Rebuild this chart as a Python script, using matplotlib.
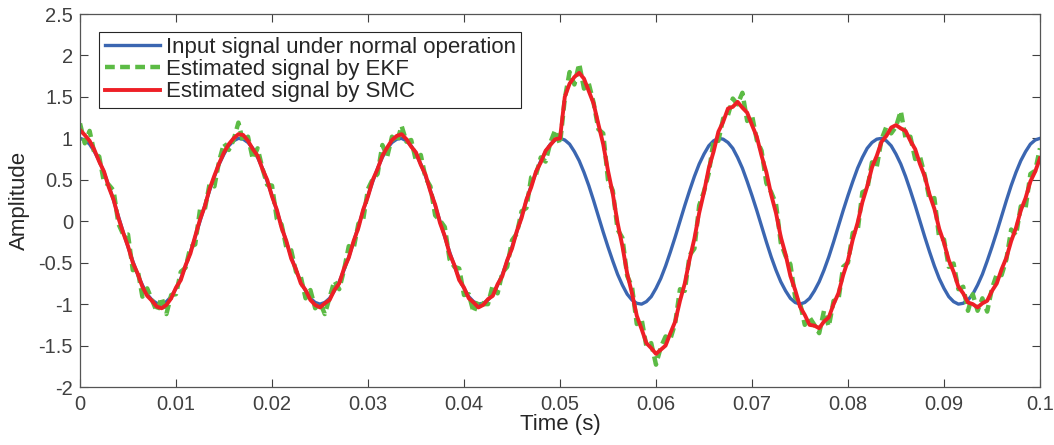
# -*- coding: utf-8 -*-
# Input signal vs. EKF / SMC estimates (fault at t = 0.05 s)

import numpy as np
import matplotlib.pyplot as plt

plt.rcParams['font.family'] = ['Liberation Sans', 'DejaVu Sans']
plt.rcParams['axes.unicode_minus'] = False

dt = 0.0005
n_pts = 201

# input signal under normal operation, read every 0.5 ms
input_sig = [
    1.00, 0.98, 0.93, 0.84, 0.73, 0.59, 0.43, 0.25, 0.06, -0.13, -0.31, -0.48, -0.64, -0.77, -0.88, -0.95, -0.99,
    -1.00, -0.97, -0.91, -0.81, -0.69, -0.54, -0.37, -0.19, 0.00, 0.19, 0.37, 0.54, 0.69, 0.81, 0.91, 0.97, 1.00,
    0.99, 0.95, 0.88, 0.77, 0.64, 0.48, 0.31, 0.13, -0.06, -0.25, -0.43, -0.59, -0.73, -0.84, -0.93, -0.98, -1.00,
    -0.98, -0.93, -0.84, -0.73, -0.59, -0.43, -0.25, -0.06, 0.13, 0.31, 0.48, 0.64, 0.77, 0.88, 0.95, 0.99,
    1.00, 0.97, 0.91, 0.81, 0.69, 0.54, 0.37, 0.19, 0.00, -0.19, -0.37, -0.54, -0.69, -0.81, -0.91, -0.97, -1.00,
    -0.99, -0.95, -0.88, -0.77, -0.64, -0.48, -0.31, -0.13, 0.06, 0.25, 0.43, 0.59, 0.73, 0.84, 0.93, 0.98, 1.00,
    0.98, 0.93, 0.84, 0.73, 0.59, 0.43, 0.25, 0.06, -0.13, -0.31, -0.48, -0.64, -0.77, -0.88, -0.95, -0.99,
    -1.00, -0.97, -0.91, -0.81, -0.69, -0.54, -0.37, -0.19, 0.00, 0.19, 0.37, 0.54, 0.69, 0.81, 0.91, 0.97, 1.00,
    0.99, 0.95, 0.88, 0.77, 0.64, 0.48, 0.31, 0.13, -0.06, -0.25, -0.43, -0.59, -0.73, -0.84, -0.93, -0.98, -1.00,
    -0.98, -0.93, -0.84, -0.73, -0.59, -0.43, -0.25, -0.06, 0.13, 0.31, 0.48, 0.64, 0.77, 0.88, 0.95, 0.99,
    1.00, 0.97, 0.91, 0.81, 0.69, 0.54, 0.37, 0.19, 0.00, -0.19, -0.37, -0.54, -0.69, -0.81, -0.91, -0.97, -1.00,
    -0.99, -0.95, -0.88, -0.77, -0.64, -0.48, -0.31, -0.13, 0.06, 0.25, 0.43, 0.59, 0.73, 0.84, 0.93, 0.98, 1.00,
]

# estimated by SMC
smc_sig = [
    1.10, 1.04, 0.97, 0.86, 0.72, 0.60, 0.41, 0.26, 0.04, -0.14, -0.30, -0.50, -0.63, -0.79, -0.90, -0.96, -1.03,
    -1.05, -1.01, -0.93, -0.80, -0.71, -0.53, -0.39, -0.18, 0.02, 0.18, 0.39, 0.55, 0.70, 0.83, 0.93, 1.00, 1.05,
    1.04, 0.97, 0.87, 0.79, 0.63, 0.50, 0.30, 0.14, -0.08, -0.24, -0.45, -0.58, -0.75, -0.83, -0.95, -1.01, -1.04,
    -0.99, -0.95, -0.83, -0.75, -0.57, -0.44, -0.24, -0.08, 0.14, 0.30, 0.50, 0.63, 0.79, 0.89, 0.98, 1.03,
    1.05, 0.99, 0.90, 0.83, 0.68, 0.56, 0.36, 0.20, -0.02, -0.18, -0.39, -0.53, -0.71, -0.80, -0.93, -0.98, -1.04,
    -1.01, -0.94, -0.90, -0.76, -0.66, -0.47, -0.33, -0.12, 0.04, 0.26, 0.41, 0.60, 0.71, 0.85, 0.92, 0.99, 1.00,
    1.50, 1.66, 1.74, 1.79, 1.72, 1.57, 1.42, 1.17, 0.93, 0.61, 0.33, -0.02, -0.30, -0.63, -0.87, -1.14,
    -1.30, -1.47, -1.53, -1.60, -1.55, -1.50, -1.35, -1.21, -0.96, -0.75, -0.46, -0.21, 0.10, 0.35, 0.64, 0.84, 1.08,
    1.20, 1.36, 1.38, 1.44, 1.37, 1.31, 1.16, 1.02, 0.79, 0.59, 0.32, 0.10, -0.19, -0.40, -0.66, -0.83, -1.03,
    -1.13, -1.25, -1.26, -1.29, -1.21, -1.16, -1.00, -0.87, -0.65, -0.47, -0.22, -0.02, 0.23, 0.42, 0.65, 0.79,
    0.96, 1.03, 1.13, 1.16, 1.12, 1.09, 0.97, 0.87, 0.69, 0.54, 0.32, 0.15, -0.09, -0.26, -0.47, -0.61, -0.79,
    -0.87, -0.98, -1.00, -1.04, -0.99, -0.96, -0.84, -0.75, -0.58, -0.44, -0.24, -0.08, 0.13, 0.28, 0.48, 0.60, 0.76,
]

# estimated by EKF (noisy)
ekf_sig = [
    1.18, 0.94, 1.09, 0.82, 0.78, 0.47, 0.44, 0.37, -0.03, -0.16, -0.16, -0.59, -0.58, -0.91, -0.81, -0.95, -1.09,
    -0.92, -1.12, -0.89, -0.88, -0.61, -0.56, -0.31, -0.28, 0.14, 0.14, 0.45, 0.42, 0.73, 0.94, 0.86, 0.98, 1.19,
    0.95, 1.02, 0.75, 0.88, 0.64, 0.44, 0.43, 0.03, -0.04, -0.32, -0.35, -0.61, -0.67, -0.93, -0.83, -1.05, -0.98,
    -1.12, -0.92, -0.72, -0.82, -0.59, -0.30, -0.33, -0.03, 0.02, 0.39, 0.51, 0.57, 0.92, 0.78, 1.02, 0.95,
    1.15, 0.96, 0.98, 0.73, 0.80, 0.52, 0.42, 0.07, 0.01, -0.07, -0.46, -0.55, -0.57, -0.89, -0.88, -1.10, -0.95,
    -1.00, -1.00, -0.77, -0.87, -0.62, -0.55, -0.23, -0.15, 0.12, 0.16, 0.53, 0.56, 0.77, 0.72, 0.95, 1.10, 0.93,
    1.48, 1.80, 1.65, 1.90, 1.60, 1.66, 1.43, 1.11, 1.06, 0.50, 0.37, -0.10, -0.20, -0.66, -0.79, -1.24,
    -1.18, -1.51, -1.47, -1.73, -1.52, -1.39, -1.42, -1.23, -0.82, -0.84, -0.41, -0.33, 0.19, 0.36, 0.58, 0.97, 0.97,
    1.24, 1.28, 1.48, 1.41, 1.55, 1.21, 1.28, 0.98, 0.85, 0.46, 0.35, 0.21, -0.26, -0.42, -0.52, -0.92, -0.98,
    -1.25, -1.16, -1.25, -1.35, -1.08, -1.27, -0.96, -0.95, -0.55, -0.50, -0.14, -0.12, 0.35, 0.38, 0.71, 0.66,
    0.99, 1.14, 1.06, 1.14, 1.33, 1.00, 1.02, 0.75, 0.78, 0.55, 0.26, 0.28, -0.20, -0.22, -0.55, -0.51, -0.82,
    -0.79, -1.08, -0.88, -1.08, -0.93, -1.09, -0.81, -0.64, -0.65, -0.46, -0.10, -0.17, 0.18, 0.16, 0.57, 0.61, 0.88,
]

t = np.arange(n_pts) * dt

x_ticks = [0, 0.01, 0.02, 0.03, 0.04, 0.05, 0.06, 0.07, 0.08, 0.09, 0.1]
x_labels = ['0', '0.01', '0.02', '0.03', '0.04', '0.05', '0.06', '0.07', '0.08', '0.09', '0.1']
y_ticks = [-2, -1.5, -1, -0.5, 0, 0.5, 1, 1.5, 2, 2.5]
y_labels = ['-2', '-1.5', '-1', '-0.5', '0', '0.5', '1', '1.5', '2', '2.5']

fig = plt.figure(figsize=(10.54, 4.45), dpi=100)
ax = fig.add_axes([0.0759, 0.1303, 0.9108, 0.8382])

ax.plot(t, input_sig, color='#3b66b1', lw=2.4, label='Input signal under normal operation')
ax.plot(t, ekf_sig, color='#5cbb45', lw=3.2, linestyle=(0, (2.2, 1.2)), label='Estimated signal by EKF')
ax.plot(t, smc_sig, color='#ee1f26', lw=2.8, label='Estimated signal by SMC')

ax.set_xlim(0, 0.1)
ax.set_ylim(-2, 2.5)
ax.set_xticks(x_ticks)
ax.set_xticklabels(x_labels)
ax.set_yticks(y_ticks)
ax.set_yticklabels(y_labels)
ax.tick_params(direction='in', top=True, right=True, length=6, width=0.8,
               labelsize=14.5, colors='#404040')
ax.tick_params(axis='x', pad=6)
ax.tick_params(axis='y', pad=5)
for s in ax.spines.values():
    s.set_color('#555555')
    s.set_linewidth(0.9)

ax.set_xlabel('Time (s)', fontsize=16, color='#262626', labelpad=0)
ax.set_ylabel('Amplitude', fontsize=16, color='#262626', labelpad=6)

leg = ax.legend(loc='upper left', bbox_to_anchor=(0.0198, 0.953), fontsize=16,
                handlelength=2.5, handletextpad=0.25, borderpad=0.25, labelspacing=0.05,
                borderaxespad=0, fancybox=False, framealpha=1)
leg.get_frame().set_edgecolor('#262626')
leg.get_frame().set_linewidth(0.8)
for txt in leg.get_texts():
    txt.set_color('#262626')

fig.savefig('out.png', dpi=100)
